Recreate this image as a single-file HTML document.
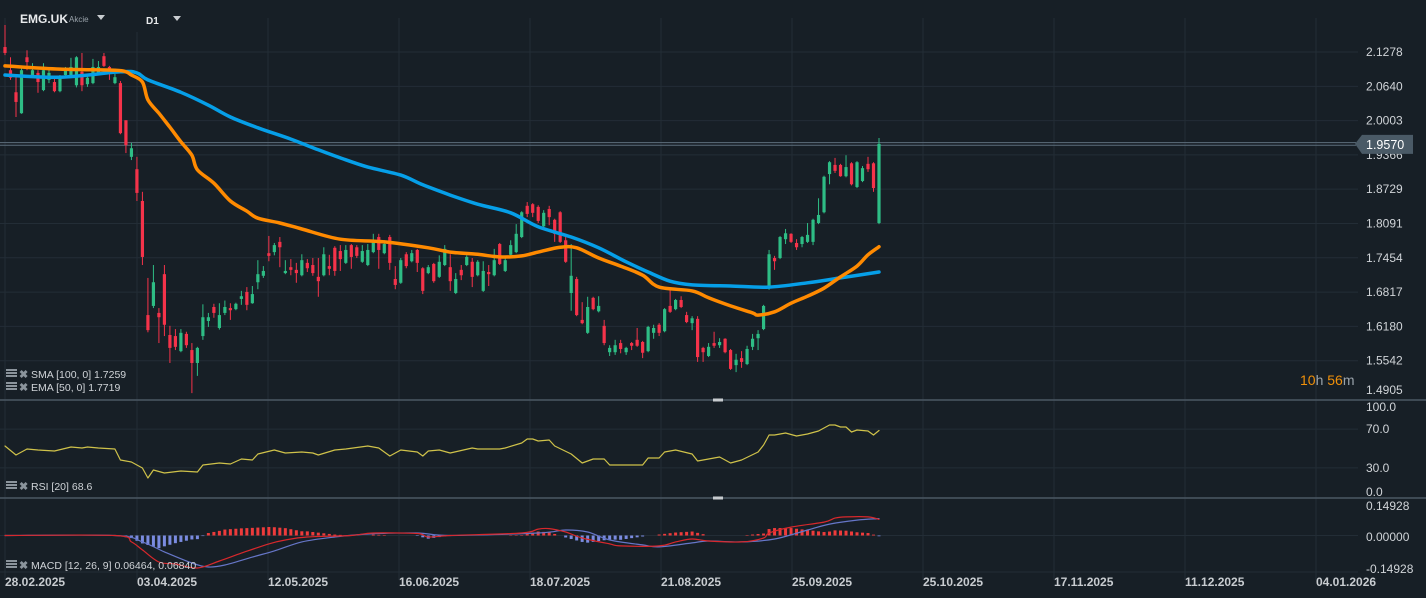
<!DOCTYPE html>
<html><head><meta charset="utf-8"><style>
html,body{margin:0;padding:0;background:#171f26;}
svg{display:block;font-family:"Liberation Sans",sans-serif;}
</style></head><body>
<svg id="c" width="1426" height="598" viewBox="0 0 1426 598">
<rect x="0" y="0" width="1426" height="598" fill="#171f26"/>
<g id="grid"></g>
<g id="price"></g>
<g id="rsi"></g>
<g id="macd"></g>
<g id="axes"></g>
<g>
  <text x="20" y="23" fill="#e8eaec" font-size="12" font-weight="bold">EMG.UK</text>
  <text x="69" y="22" fill="#9aa3ab" font-size="8">Akcie</text>
  <path d="M97,15 L105,15 L101,20 Z" fill="#c8ccd0"/>
  <text x="146" y="24" fill="#e8eaec" font-size="10" font-weight="bold">D1</text>
  <path d="M173,16 L181,16 L177,21 Z" fill="#c8ccd0"/>
</g>
<g>
  <text x="1300" y="385" font-size="14"><tspan fill="#f0900a">10</tspan><tspan fill="#9aa3ab">h </tspan><tspan fill="#f0900a">56</tspan><tspan fill="#9aa3ab">m</tspan></text>
</g>
<g id="legends"></g>
</svg>
<script>
// ---------- data ----------
const opens=[2.137,2.094,2.053,2.014,2.118,2.081,2.089,2.057,2.076,2.072,2.055,2.085,2.085,2.066,2.091,2.068,2.070,2.089,2.120,2.100,2.070,2.070,2.001,1.933,1.910,1.851,1.639,1.656,1.643,1.715,1.602,1.600,1.572,1.604,1.574,1.550,1.600,1.628,1.654,1.615,1.643,1.652,1.650,1.669,1.682,1.661,1.700,1.712,1.754,1.756,1.775,1.717,1.728,1.723,1.713,1.736,1.732,1.710,1.713,1.730,1.764,1.758,1.736,1.769,1.765,1.738,1.732,1.756,1.784,1.754,1.784,1.706,1.699,1.752,1.739,1.760,1.726,1.717,1.734,1.710,1.732,1.728,1.680,1.723,1.732,1.738,1.713,1.684,1.719,1.713,1.771,1.721,1.751,1.756,1.784,1.842,1.845,1.840,1.804,1.836,1.816,1.830,1.778,1.680,1.706,1.630,1.606,1.671,1.646,1.619,1.570,1.570,1.587,1.570,1.587,1.593,1.589,1.572,1.606,1.621,1.609,1.656,1.650,1.667,1.639,1.624,1.632,1.578,1.563,1.587,1.583,1.595,1.574,1.546,1.559,1.548,1.580,1.596,1.613,1.691,1.745,1.745,1.780,1.790,1.773,1.771,1.775,1.775,1.810,1.830,1.901,1.918,1.918,1.897,1.921,1.877,1.888,1.920,1.921,1.810];
const highs=[2.178,2.118,2.081,2.098,2.131,2.107,2.094,2.107,2.096,2.078,2.085,2.100,2.117,2.120,2.126,2.085,2.115,2.111,2.126,2.102,2.087,2.074,2.001,1.959,1.933,1.868,1.708,1.732,1.652,1.732,1.619,1.613,1.613,1.608,1.587,1.580,1.659,1.643,1.660,1.661,1.666,1.661,1.662,1.684,1.691,1.693,1.741,1.730,1.786,1.773,1.784,1.741,1.743,1.736,1.752,1.743,1.745,1.745,1.765,1.751,1.767,1.769,1.769,1.771,1.769,1.769,1.771,1.790,1.790,1.778,1.788,1.730,1.745,1.756,1.760,1.762,1.728,1.732,1.736,1.750,1.769,1.752,1.717,1.732,1.750,1.745,1.741,1.739,1.732,1.762,1.773,1.745,1.778,1.808,1.832,1.849,1.847,1.843,1.834,1.842,1.818,1.832,1.786,1.771,1.710,1.663,1.673,1.673,1.674,1.630,1.583,1.593,1.593,1.580,1.589,1.615,1.591,1.619,1.621,1.624,1.652,1.686,1.669,1.674,1.645,1.637,1.637,1.580,1.587,1.608,1.596,1.596,1.576,1.567,1.572,1.582,1.604,1.611,1.658,1.760,1.749,1.786,1.799,1.791,1.780,1.786,1.810,1.818,1.856,1.898,1.925,1.931,1.920,1.936,1.923,1.925,1.916,1.933,1.923,1.968];
const lows=[2.122,2.076,2.007,2.013,2.094,2.080,2.052,2.055,2.070,2.053,2.053,2.083,2.083,2.062,2.055,2.063,2.068,2.087,2.100,2.076,2.068,1.975,1.940,1.927,1.851,1.732,1.607,1.652,1.587,1.600,1.550,1.574,1.570,1.578,1.494,1.526,1.593,1.617,1.634,1.612,1.639,1.630,1.648,1.658,1.648,1.660,1.687,1.708,1.739,1.750,1.728,1.715,1.713,1.699,1.711,1.719,1.712,1.673,1.711,1.713,1.712,1.721,1.734,1.725,1.745,1.736,1.730,1.754,1.725,1.752,1.723,1.687,1.697,1.726,1.737,1.719,1.678,1.715,1.699,1.708,1.730,1.684,1.678,1.704,1.730,1.691,1.711,1.682,1.693,1.711,1.732,1.719,1.749,1.754,1.782,1.821,1.821,1.810,1.802,1.806,1.775,1.773,1.736,1.647,1.637,1.622,1.604,1.648,1.644,1.583,1.563,1.565,1.568,1.565,1.574,1.580,1.559,1.570,1.595,1.600,1.607,1.643,1.648,1.652,1.624,1.611,1.552,1.552,1.561,1.578,1.578,1.568,1.537,1.533,1.541,1.546,1.574,1.574,1.611,1.686,1.723,1.743,1.771,1.773,1.760,1.765,1.773,1.769,1.808,1.828,1.882,1.903,1.896,1.895,1.880,1.875,1.886,1.905,1.868,1.808];
const closes=[2.126,2.080,2.035,2.094,2.109,2.094,2.072,2.094,2.089,2.055,2.081,2.094,2.100,2.118,2.066,2.080,2.100,2.100,2.102,2.089,2.081,1.977,1.955,1.949,1.866,1.747,1.611,1.700,1.635,1.621,1.578,1.580,1.606,1.583,1.550,1.578,1.635,1.635,1.643,1.639,1.654,1.648,1.660,1.674,1.658,1.678,1.715,1.721,1.749,1.769,1.765,1.721,1.723,1.717,1.741,1.726,1.717,1.702,1.752,1.725,1.721,1.743,1.760,1.747,1.749,1.758,1.760,1.778,1.760,1.771,1.736,1.695,1.741,1.730,1.754,1.736,1.684,1.728,1.702,1.738,1.762,1.702,1.706,1.713,1.747,1.710,1.738,1.721,1.715,1.741,1.734,1.741,1.769,1.790,1.830,1.827,1.829,1.814,1.829,1.821,1.790,1.775,1.738,1.712,1.639,1.624,1.654,1.650,1.656,1.587,1.578,1.583,1.576,1.578,1.582,1.582,1.569,1.617,1.615,1.606,1.650,1.645,1.667,1.654,1.626,1.633,1.561,1.570,1.580,1.582,1.589,1.570,1.539,1.556,1.552,1.576,1.595,1.604,1.656,1.752,1.739,1.784,1.791,1.775,1.765,1.784,1.788,1.816,1.825,1.896,1.923,1.907,1.897,1.914,1.882,1.923,1.912,1.910,1.875,1.957];
const smaIdx=[0,10,21,24,26,32,37,41,46,52,57,61,66,72,76,81,86,92,97,103,108,113,117,121,125,132,139,146,152,159];
const smaVals=[2.085,2.081,2.091,2.089,2.076,2.053,2.029,2.007,1.987,1.966,1.946,1.931,1.914,1.899,1.881,1.862,1.845,1.829,1.803,1.784,1.764,1.738,1.719,1.702,1.695,1.693,1.691,1.699,1.708,1.719];
const emaIdx=[0,10,20,22,23,25,26,28,30,32,34,35,38,41,44,46,50,54,61,69,77,81,86,90,94,97,101,104,108,112,116,119,125,128,132,136,137,140,143,146,149,152,155,157,159];
const emaVals=[2.102,2.096,2.094,2.091,2.085,2.072,2.039,2.014,1.988,1.961,1.936,1.909,1.884,1.851,1.832,1.819,1.810,1.799,1.780,1.775,1.764,1.756,1.752,1.747,1.749,1.756,1.765,1.764,1.745,1.730,1.713,1.691,1.684,1.671,1.656,1.643,1.639,1.645,1.661,1.674,1.689,1.710,1.730,1.751,1.766];
const rsiIdx=[0,2,4,6,9,12,14,15,17,20,21,23,25,26,27,29,32,35,36,39,41,43,45,46,49,51,54,56,57,60,62,66,68,70,72,75,76,77,79,81,85,86,90,91,94,95,96,97,99,100,103,105,107,109,110,112,116,117,119,120,122,125,126,130,132,134,137,138,139,140,142,144,146,148,150,151,152,153,154,155,157,158,159];
const rsiVals=[52.6,43.3,49.5,48.5,47.4,51.5,50.5,51.5,50.5,49.5,38.1,36.1,29.9,19.6,27.8,24.7,26.8,25.8,33.0,35.1,34.0,39.2,38.1,44.3,48.5,45.4,46.4,45.4,43.3,48.5,49.5,52.6,50.5,42.3,48.5,46.4,42.3,47.4,48.5,45.4,50.5,49.5,49.5,50.5,55.7,59.8,59.8,57.7,58.8,52.6,44.3,35.1,39.2,39.2,33.0,33.0,33.0,40.2,40.2,46.4,48.5,44.3,37.1,41.2,35.1,38.1,46.4,53.6,63.9,63.9,66.0,62.9,64.9,68.0,74.2,74.2,72.2,72.2,67.0,69.1,68.0,63.9,68.6];
const macdIdx=[0,20,23,25,28,31,35,39,43,48,51,55,63,67,75,77,81,94,97,99,102,105,110,112,119,122,125,128,134,138,139,143,149,151,153,157,159];
const macdVals=[0,0,-0.026,-0.058,-0.107,-0.115,-0.131,-0.103,-0.071,-0.034,-0.018,-0.006,0,0.01,0.008,-0.006,0,0.01,0.026,0.028,0.014,-0.01,-0.034,-0.042,-0.042,-0.026,-0.014,-0.022,-0.026,-0.01,0.01,0.034,0.054,0.07,0.075,0.075,0.065];
const sigIdx=[0,20,25,29,34,37,40,45,49,54,60,66,75,81,97,102,106,110,116,119,125,128,134,140,146,150,155,159];
const sigVals=[0,0,-0.026,-0.066,-0.111,-0.127,-0.119,-0.087,-0.062,-0.026,-0.006,0.006,0.01,0,0.01,0.022,0.014,-0.018,-0.038,-0.046,-0.03,-0.022,-0.026,-0.014,0.022,0.046,0.062,0.068];
const priceTicks=["2.1278","2.0640","2.0003","1.9366","1.8729","1.8091","1.7454","1.6817","1.6180","1.5542","1.4905"];
const rsiTicks=[100,70,30,0];
const macdTicks=[0.14928,0,-0.14928];
const dateLabels=["28.02.2025","03.04.2025","12.05.2025","16.06.2025","18.07.2025","21.08.2025","25.09.2025","25.10.2025","17.11.2025","11.12.2025","04.01.2026"];
const lastPrice=1.9570;

// ---------- scales ----------
const N=closes.length, X0=5, STEP=874/(N-1);
const xOf=i=>X0+i*STEP;
const yP=p=>52+(2.1278-p)*538.2;
const yR=r=>497-r*0.97;
const yM=v=>535.5-v*248;
const NS="http://www.w3.org/2000/svg";
function mk(tag,attrs,parent){const e=document.createElementNS(NS,tag);for(const k in attrs)e.setAttribute(k,attrs[k]);parent.appendChild(e);return e;}
function interp(idx,vals){const out=[];for(let i=0;i<N;i++){let k=0;while(k<idx.length-2&&idx[k+1]<i)k++;const a=idx[k],b=idx[k+1];const t=b===a?0:Math.min(1,Math.max(0,(i-a)/(b-a)));out.push(vals[k]+(vals[k+1]-vals[k])*t);}return out;}

const grid=document.getElementById('grid'), axes=document.getElementById('axes');
const gridCol="#232d36";
for(let k=0;k<dateLabels.length;k++){
  const x=k===0?5:137+(k-1)*131;
  const g=mk('line',{x1:x,y1:k===1?32:18,x2:x,y2:580,stroke:gridCol,'stroke-width':1},grid);
  
  
  const t=mk('text',{x:x,y:586,fill:'#c8ccd0','font-size':12,'font-weight':'bold'},axes);
  t.textContent=dateLabels[k];
  
  
}
priceTicks.forEach((s,k)=>{
  const y=yP(parseFloat(s));
  if(k<priceTicks.length-1){
    const l=mk('line',{x1:0,y1:y,x2:1358,y2:y,stroke:gridCol,'stroke-width':1},grid);
    
    
  }
  const t=mk('text',{x:1366,y:(k===priceTicks.length-1?y-1:y+4),fill:'#d0d4d8','font-size':12},axes);
  t.textContent=s;
  
  
});
rsiTicks.forEach(v=>{
  const y=yR(v);
  if(v===70||v===30){const l=mk('line',{x1:0,y1:y,x2:1358,y2:y,stroke:gridCol,'stroke-width':1},grid);
    
    }
  const ty=v===100?411:v===0?496:y+4;
  const t=mk('text',{x:1366,y:ty,fill:'#d0d4d8','font-size':12},axes);
  t.textContent=v.toFixed(1);
  
  
});
macdTicks.forEach(v=>{
  const yy=v>0?506:v<0?572:535.5;
  if(v<=0){const l=mk('line',{x1:0,y1:yy,x2:1358,y2:yy,stroke:gridCol,'stroke-width':1},grid);
    
    }
  const t=mk('text',{x:1366,y:v>0?510:v<0?573:541,fill:'#d0d4d8','font-size':12},axes);
  t.textContent=(v<0?'-':'')+Math.abs(v).toFixed(5);
  
  
});
[400,498].forEach(y=>{
  const l=mk('line',{x1:0,y1:y,x2:1426,y2:y,stroke:'#4b5864','stroke-width':1.5},axes);
  
  
  const h=mk('rect',{x:713,y:y-1.5,width:10,height:3,fill:'#c8ccd0'},axes);
  
  
});

// ---------- price panel ----------
const price=document.getElementById('price');
const clip=mk('clipPath',{id:'pc'},price);mk('rect',{x:0,y:0,width:1358,height:399},clip);
const pg=mk('g',{'clip-path':'url(#pc)'},price);
const lpY=yP(lastPrice);
[lpY-1.3,lpY+1.3].forEach(y=>{
  const l=mk('line',{x1:0,y1:y,x2:1356,y2:y,stroke:'#5d6e7c','stroke-width':1},pg);
  
  
});
for(let i=0;i<N;i++){
  const up=closes[i]>=opens[i], col=up?'#2ebd85':'#f5334a', x=xOf(i);
  const w=mk('line',{x1:x,y1:yP(highs[i]),x2:x,y2:yP(lows[i]),stroke:col,'stroke-width':1},pg);
  
  
  const top=yP(Math.max(opens[i],closes[i])), bot=yP(Math.min(opens[i],closes[i]));
  const b=mk('rect',{x:x-1.6,y:top,width:3.2,height:Math.max(1.2,bot-top),fill:col},pg);
  
  
}
function polyline(parent,idx,vals,yf,col,w){
  const d=idx.map((ix,k)=>(k?'L':'M')+xOf(ix).toFixed(1)+','+yf(vals[k]).toFixed(1)).join(' ');
  return mk('path',{d:d,fill:'none',stroke:col,'stroke-width':w,'stroke-linejoin':'round','stroke-linecap':'round'},parent);
}
function smooth(parent,idx,vals,yf,col,w){
  const P=idx.map((ix,k)=>[xOf(ix),yf(vals[k])]);
  let d='M'+P[0][0].toFixed(1)+','+P[0][1].toFixed(1);
  for(let k=0;k<P.length-1;k++){
    const p0=P[Math.max(0,k-1)],p1=P[k],p2=P[k+1],p3=P[Math.min(P.length-1,k+2)];
    const c1=[p1[0]+(p2[0]-p0[0])/6,p1[1]+(p2[1]-p0[1])/6];
    const c2=[p2[0]-(p3[0]-p1[0])/6,p2[1]-(p3[1]-p1[1])/6];
    d+=' C'+c1.map(v=>v.toFixed(1)).join(',')+' '+c2.map(v=>v.toFixed(1)).join(',')+' '+p2[0].toFixed(1)+','+p2[1].toFixed(1);
  }
  return mk('path',{d:d,fill:'none',stroke:col,'stroke-width':w,'stroke-linejoin':'round','stroke-linecap':'round'},parent);
}
const sma=smooth(pg,smaIdx,smaVals,yP,'#069fe8',3.5);


const ema=smooth(pg,emaIdx,emaVals,yP,'#ff8a00',3.5);


const tag=mk('path',{d:`M1355,${lpY} L1362,${lpY-9} L1413,${lpY-9} L1413,${lpY+10} L1362,${lpY+10} Z`,fill:'#4a5a66'},axes);


const tt=mk('text',{x:1366,y:lpY+5,fill:'#ffffff','font-size':12.5},axes);
tt.textContent=lastPrice.toFixed(4);



// ---------- RSI ----------
const rsi=document.getElementById('rsi');
const rl=polyline(rsi,rsiIdx,rsiVals,yR,'#cfc24a',1.2);



// ---------- MACD ----------
const macd=document.getElementById('macd');
const mFull=interp(macdIdx,macdVals), sFull=interp(sigIdx,sigVals);
for(let i=0;i<N;i++){
  const h=mFull[i]-sFull[i]; if(Math.abs(h)<0.0015) continue;
  const y0=yM(0), y1=yM(h);
  const r=mk('rect',{x:xOf(i)-1.5,y:Math.min(y0,y1),width:3,height:Math.abs(y1-y0),fill:h>0?'#ee3b3b':'#7a8be0'},macd);
  
  
}
const sl=smooth(macd,sigIdx,sigVals,yM,'#6676c8',1.2);


const ml=smooth(macd,macdIdx,macdVals,yM,'#d8282c',1.2);



// ---------- legends ----------
const lg=document.getElementById('legends');
[[378,'SMA [100,  0] 1.7259','sma-legend'],[391,'EMA [50,  0] 1.7719','ema-legend'],[490,'RSI [20]  68.6','rsi-legend'],[569,'MACD [12, 26, 9] 0.06464,  0.06840','macd-legend']].forEach(([y,txt,name])=>{
  const g=mk('g',{},lg);
  
  
  mk('rect',{x:6,y:y-9,width:11,height:2,fill:'#8b949c'},g);
  mk('rect',{x:6,y:y-6,width:11,height:2,fill:'#8b949c'},g);
  mk('rect',{x:6,y:y-3,width:11,height:2,fill:'#8b949c'},g);
  const x=mk('text',{x:19,y:y,fill:'#8b949c','font-size':11,'font-weight':'bold'},g);
  x.textContent='✖';
  const t=mk('text',{x:31,y:y,fill:'#d0d4d8','font-size':10.5},g);
  t.textContent=txt;
});
</script>
</body></html>
